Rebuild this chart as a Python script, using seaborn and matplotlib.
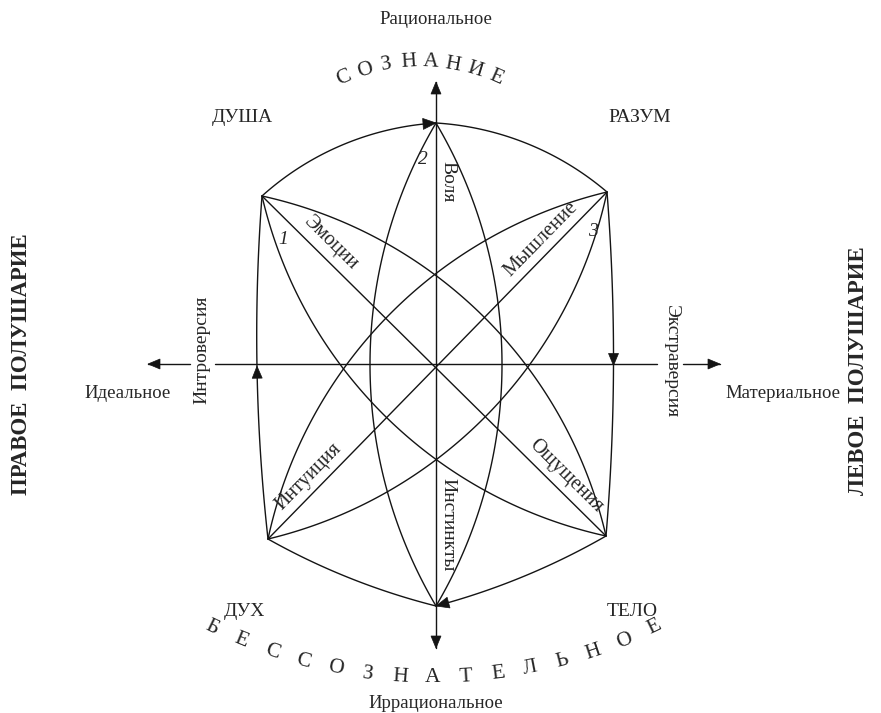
import numpy as np
import pandas as pd
import matplotlib
matplotlib.use("Agg")
import matplotlib.pyplot as plt
import seaborn as sns
from matplotlib.patches import Polygon

# ---------------- data ----------------
node_names = ["T", "UR", "LR", "B", "LL", "UL"]
node_x = [436, 607, 606, 436, 268, 262]
node_y = [123, 192, 536, 606, 539, 196]
center_xy = [436, 364]

outer_from = ["UL", "T", "UR", "LR", "B", "LL"]
outer_to = ["T", "UR", "LR", "B", "LL", "UL"]
outer_bulge = [16, 15, 7, 6, 6, 8]

lens_from = ["T", "UL", "LL"]
lens_to = ["B", "LR", "UR"]
lens_bulge = [66, 70, 70]

diag_from = ["UL", "LL"]
diag_to = ["LR", "UR"]

h_axis_x = [148, 720]
h_axis_gaps = [(190, 215), (657, 683)]
v_axis_y = [82, 648]

corner_labels = ["ДУША", "РАЗУМ", "ДУХ", "ТЕЛО"]
corner_lx = [242, 640, 244, 632]
corner_ly = [118, 118, 612, 612]

pole_labels = ["Рациональное", "Иррациональное", "Идеальное", "Материальное"]
pole_lx = [436, 436, 128, 783]
pole_ly = [20, 703, 393, 393]

func_labels = ["Эмоции", "Ощущения", "Интуиция", "Мышление"]
func_line = [0, 0, 1, 1]          # index into diagonals
func_t = [0.17, 0.855, 0.15, 0.835]  # position along diagonal

num_labels = ["1", "2", "3"]
num_lx = [283, 423, 593]
num_ly = [240, 160, 232]

top_word = "СОЗНАНИЕ"
bottom_word = "БЕССОЗНАТЕЛЬНОЕ"

# ---------------- helpers ----------------
nodes = {n: np.array([x, y], float) for n, x, y in zip(node_names, node_x, node_y)}
C = np.array(center_xy, float)


def arc_points(p0, p1, s, n=120):
    d = p1 - p0
    L = np.hypot(*d)
    v = d / L
    nrm = np.array([-v[1], v[0]])
    if s < 0:
        nrm = -nrm
        s = -s
    h = L / 2
    R = (s * s + h * h) / (2 * s)
    mid = (p0 + p1) / 2
    c = mid + nrm * (s - R)
    phi = np.arcsin(h / R)
    th = np.linspace(-phi, phi, n)
    return c[None, :] + R * (np.cos(th)[:, None] * nrm[None, :] + np.sin(th)[:, None] * v[None, :])


def outer_arc(p0, p1, s):
    a = arc_points(p0, p1, s)
    b = arc_points(p0, p1, -s)
    ma, mb = a[len(a) // 2], b[len(b) // 2]
    return a if np.hypot(*(ma - C)) > np.hypot(*(mb - C)) else b


rows = []
curves = {}
cid = 0
for f, t, s in zip(outer_from, outer_to, outer_bulge):
    pts = outer_arc(nodes[f], nodes[t], s)
    curves[(f, t)] = pts
    rows.append(pd.DataFrame({"x": pts[:, 0], "y": pts[:, 1], "curve": cid}))
    cid += 1
for f, t, s in zip(lens_from, lens_to, lens_bulge):
    for sign in (1, -1):
        pts = arc_points(nodes[f], nodes[t], sign * s)
        rows.append(pd.DataFrame({"x": pts[:, 0], "y": pts[:, 1], "curve": cid}))
        cid += 1
for f, t in zip(diag_from, diag_to):
    pts = np.linspace(nodes[f], nodes[t], 2)
    rows.append(pd.DataFrame({"x": pts[:, 0], "y": pts[:, 1], "curve": cid}))
    cid += 1
# axes
vx = [C[0], C[0]]
rows.append(pd.DataFrame({"x": vx, "y": v_axis_y, "curve": cid})); cid += 1
hx_pts = [h_axis_x[0]] + [g for gap in h_axis_gaps for g in gap] + [h_axis_x[1]]
for i in range(0, len(hx_pts), 2):
    rows.append(pd.DataFrame({"x": hx_pts[i:i + 2], "y": [C[1], C[1]], "curve": cid}))
    cid += 1

df = pd.concat(rows, ignore_index=True)

# ---------------- plot ----------------
sns.set_theme(style="white")
plt.rcParams["font.family"] = ["Liberation Serif", "DejaVu Serif"]

INK = "#141414"
fig = plt.figure(figsize=(8.81, 7.13), dpi=100)
ax = fig.add_axes([0, 0, 1, 1])
sns.lineplot(data=df, x="x", y="y", units="curve", estimator=None, sort=False,
             color=INK, linewidth=1.0, ax=ax, legend=False)
ax.set_xlim(0, 881)
ax.set_ylim(713, 0)
ax.axis("off")


def tri(tip, direction, length=12, half=5):
    d = np.asarray(direction, float)
    d = d / np.hypot(*d)
    p = np.array([-d[1], d[0]])
    base = tip - d * length
    ax.add_patch(Polygon([tip, base + p * half, base - p * half], closed=True,
                         facecolor=INK, edgecolor=INK, lw=0.5, zorder=5))


# axis arrows
tri(np.array([h_axis_x[0], C[1]]), (-1, 0))
tri(np.array([h_axis_x[1], C[1]]), (1, 0))
tri(np.array([C[0], v_axis_y[0]]), (0, -1))
tri(np.array([C[0], v_axis_y[1]]), (0, 1))

# cycle arrows on outer curve
pts = curves[("UL", "T")]
tri(pts[-1], pts[-1] - pts[-4], length=13, half=5.5)
pts = curves[("LR", "B")]
tri(pts[-1], pts[-1] - pts[-4], length=13, half=5.5)
pts = curves[("LL", "UL")]
m = len(pts) // 2
tri(pts[m], pts[m] - pts[m - 3])
pts = curves[("UR", "LR")]
m = len(pts) // 2
tri(pts[m], pts[m] - pts[m - 3])

FS = 14
for lab, x, y in zip(corner_labels, corner_lx, corner_ly):
    ax.text(x, y, lab, ha="center", va="center", fontsize=FS)
for lab, x, y in zip(pole_labels, pole_lx, pole_ly):
    ax.text(x, y, lab, ha="center", va="center", fontsize=13.5)

ax.text(22, 364, "ПРАВОЕ  ПОЛУШАРИЕ", rotation=90, ha="center", va="center",
        fontsize=16.5, fontweight="bold")
ax.text(858, 371, "ЛЕВОЕ  ПОЛУШАРИЕ", rotation=90, ha="center", va="center",
        fontsize=16.5, fontweight="bold")

ax.text(202, 350, "Интроверсия", rotation=90, ha="center", va="center", fontsize=FS)
ax.text(671, 362, "Экстраверсия", rotation=-90, ha="center", va="center", fontsize=FS)
ax.text(448, 182, "Воля", rotation=-90, ha="center", va="center", fontsize=FS)
ax.text(448, 525, "Инстинкты", rotation=-90, ha="center", va="center", fontsize=FS)

diags = [(nodes[f], nodes[t]) for f, t in zip(diag_from, diag_to)]
for lab, li, t in zip(func_labels, func_line, func_t):
    p0, p1 = diags[li]
    d = p1 - p0
    ang = np.degrees(np.arctan2(-d[1], d[0]))
    if ang > 90:
        ang -= 180
    if ang < -90:
        ang += 180
    pt = p0 + t * d
    r = np.radians(ang)
    up = np.array([-np.sin(r), -np.cos(r)])  # screen "up" normal of text
    pos = pt + up * 5
    ax.text(pos[0], pos[1], lab, rotation=ang, rotation_mode="anchor",
            ha="center", va="bottom", fontsize=14.5)

for lab, x, y in zip(num_labels, num_lx, num_ly):
    ax.text(x, y, lab, ha="center", va="center", fontsize=FS, style="italic")


def arc_text(word, cx, cy, R, step_deg, top=True, fs=14):
    n = len(word)
    for i, ch in enumerate(word):
        a = np.radians((i - (n - 1) / 2) * step_deg)
        x = cx + R * np.sin(a)
        if top:
            y = cy - R * np.cos(a)
            rot = -np.degrees(a)
        else:
            y = cy + R * np.cos(a)
            rot = np.degrees(a)
        ax.text(x, y, ch, rotation=rot, rotation_mode="anchor", ha="center",
                va="center", fontsize=fs)


arc_text(top_word, 420, 250, 188, 6.8, top=True, fs=15.5)
arc_text(bottom_word, 433, 170, 508, 3.69, top=False, fs=15.5)

fig.savefig("out.png", dpi=100, facecolor="white")
